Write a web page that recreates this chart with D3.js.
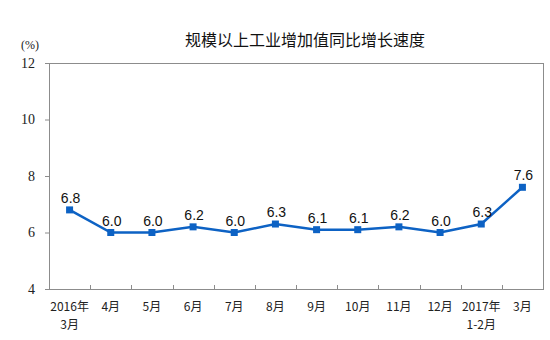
<!DOCTYPE html>
<html><head><meta charset="utf-8">
<script src="https://cdn.jsdelivr.net/npm/d3@7"></script>
<style>body{margin:0;background:#fff}</style>
</head><body>
<script>
const categories = [["2016年","3月"],["4月"],["5月"],["6月"],["7月"],["8月"],["9月"],["10月"],["11月"],["12月"],["2017年","1-2月"],["3月"]];
const values = [6.8, 6.0, 6.0, 6.2, 6.0, 6.3, 6.1, 6.1, 6.2, 6.0, 6.3, 7.6];
const yTicks = [4, 6, 8, 10, 12];
const title = "规模以上工业增加值同比增长速度";
const unit = "(%)";

const W = 550, H = 340;
const m = {left: 49, top: 63, right: 7, bottom: 51};
const svg = d3.select("body").append("svg").attr("width", W).attr("height", H);
const x = d3.scaleBand().domain(d3.range(categories.length)).range([m.left, W - m.right]);
const y = d3.scaleLinear().domain([4, 12]).range([H - m.bottom, m.top]);

svg.append("text").attr("x", 305).attr("y", 46).attr("text-anchor", "middle")
  .attr("font-family", "'Noto Sans CJK SC', sans-serif").attr("font-size", 16).attr("fill", "#111").text(title);
svg.append("text").attr("x", 30).attr("y", 49).attr("text-anchor", "middle")
  .attr("font-family", "'Liberation Serif', serif").attr("font-size", 12).attr("fill", "#222").text(unit);

// frame
svg.append("rect").attr("x", m.left).attr("y", m.top).attr("width", W - m.right - m.left).attr("height", H - m.bottom - m.top)
  .attr("fill", "none").attr("stroke", "#8c8c8c").attr("stroke-width", 1).attr("shape-rendering", "crispEdges");

// y axis
const yAxis = d3.axisLeft(y).tickValues(yTicks).tickSize(4).tickPadding(10).tickFormat(d3.format("d"));
const gy = svg.append("g").attr("transform", `translate(${m.left},0)`).call(yAxis);
gy.select(".domain").attr("stroke", "#8c8c8c");
gy.selectAll(".tick line").attr("stroke", "#8c8c8c");
gy.selectAll(".tick text").attr("font-family", "'Liberation Serif', serif").attr("font-size", 14).attr("fill", "#222");

// x axis ticks at band boundaries (inward)
const bounds = d3.range(1, categories.length);
svg.append("g").selectAll("line").data(bounds).join("line")
  .attr("x1", i => Math.round(x(i)) + 0.5).attr("x2", i => Math.round(x(i)) + 0.5)
  .attr("y1", y(4)).attr("y2", y(4) - 4).attr("stroke", "#8c8c8c");

// x labels (one text element per line)
const lines = [];
categories.forEach((c, i) => c.forEach((s, k) => lines.push({i, k, s})));
svg.append("g").selectAll("text").data(lines).join("text")
  .attr("x", d => x(d.i) + x.bandwidth() / 2).attr("y", d => 311 + d.k * 18)
  .attr("text-anchor", "middle").attr("font-family", "'Noto Sans CJK SC', sans-serif").attr("font-size", 12).attr("fill", "#222")
  .text(d => d.s);

// line
const line = d3.line().x((d, i) => x(i) + x.bandwidth() / 2).y(d => y(d));
svg.append("path").datum(values).attr("d", line).attr("fill", "none").attr("stroke", "#0d62c4").attr("stroke-width", 2.5);
svg.append("g").selectAll("rect").data(values).join("rect")
  .attr("x", (d, i) => x(i) + x.bandwidth() / 2 - 3.5).attr("y", d => y(d) - 3.5)
  .attr("width", 7).attr("height", 7).attr("fill", "#0d62c4");

// data labels
svg.append("g").selectAll("text").data(values).join("text")
  .attr("x", (d, i) => x(i) + x.bandwidth() / 2 + 1).attr("y", d => y(d) - 7)
  .attr("text-anchor", "middle").attr("font-family", "'Liberation Sans', Arial, sans-serif").attr("font-size", 14).attr("fill", "#111")
  .text(d => d3.format(".1f")(d));
</script>
</body></html>
